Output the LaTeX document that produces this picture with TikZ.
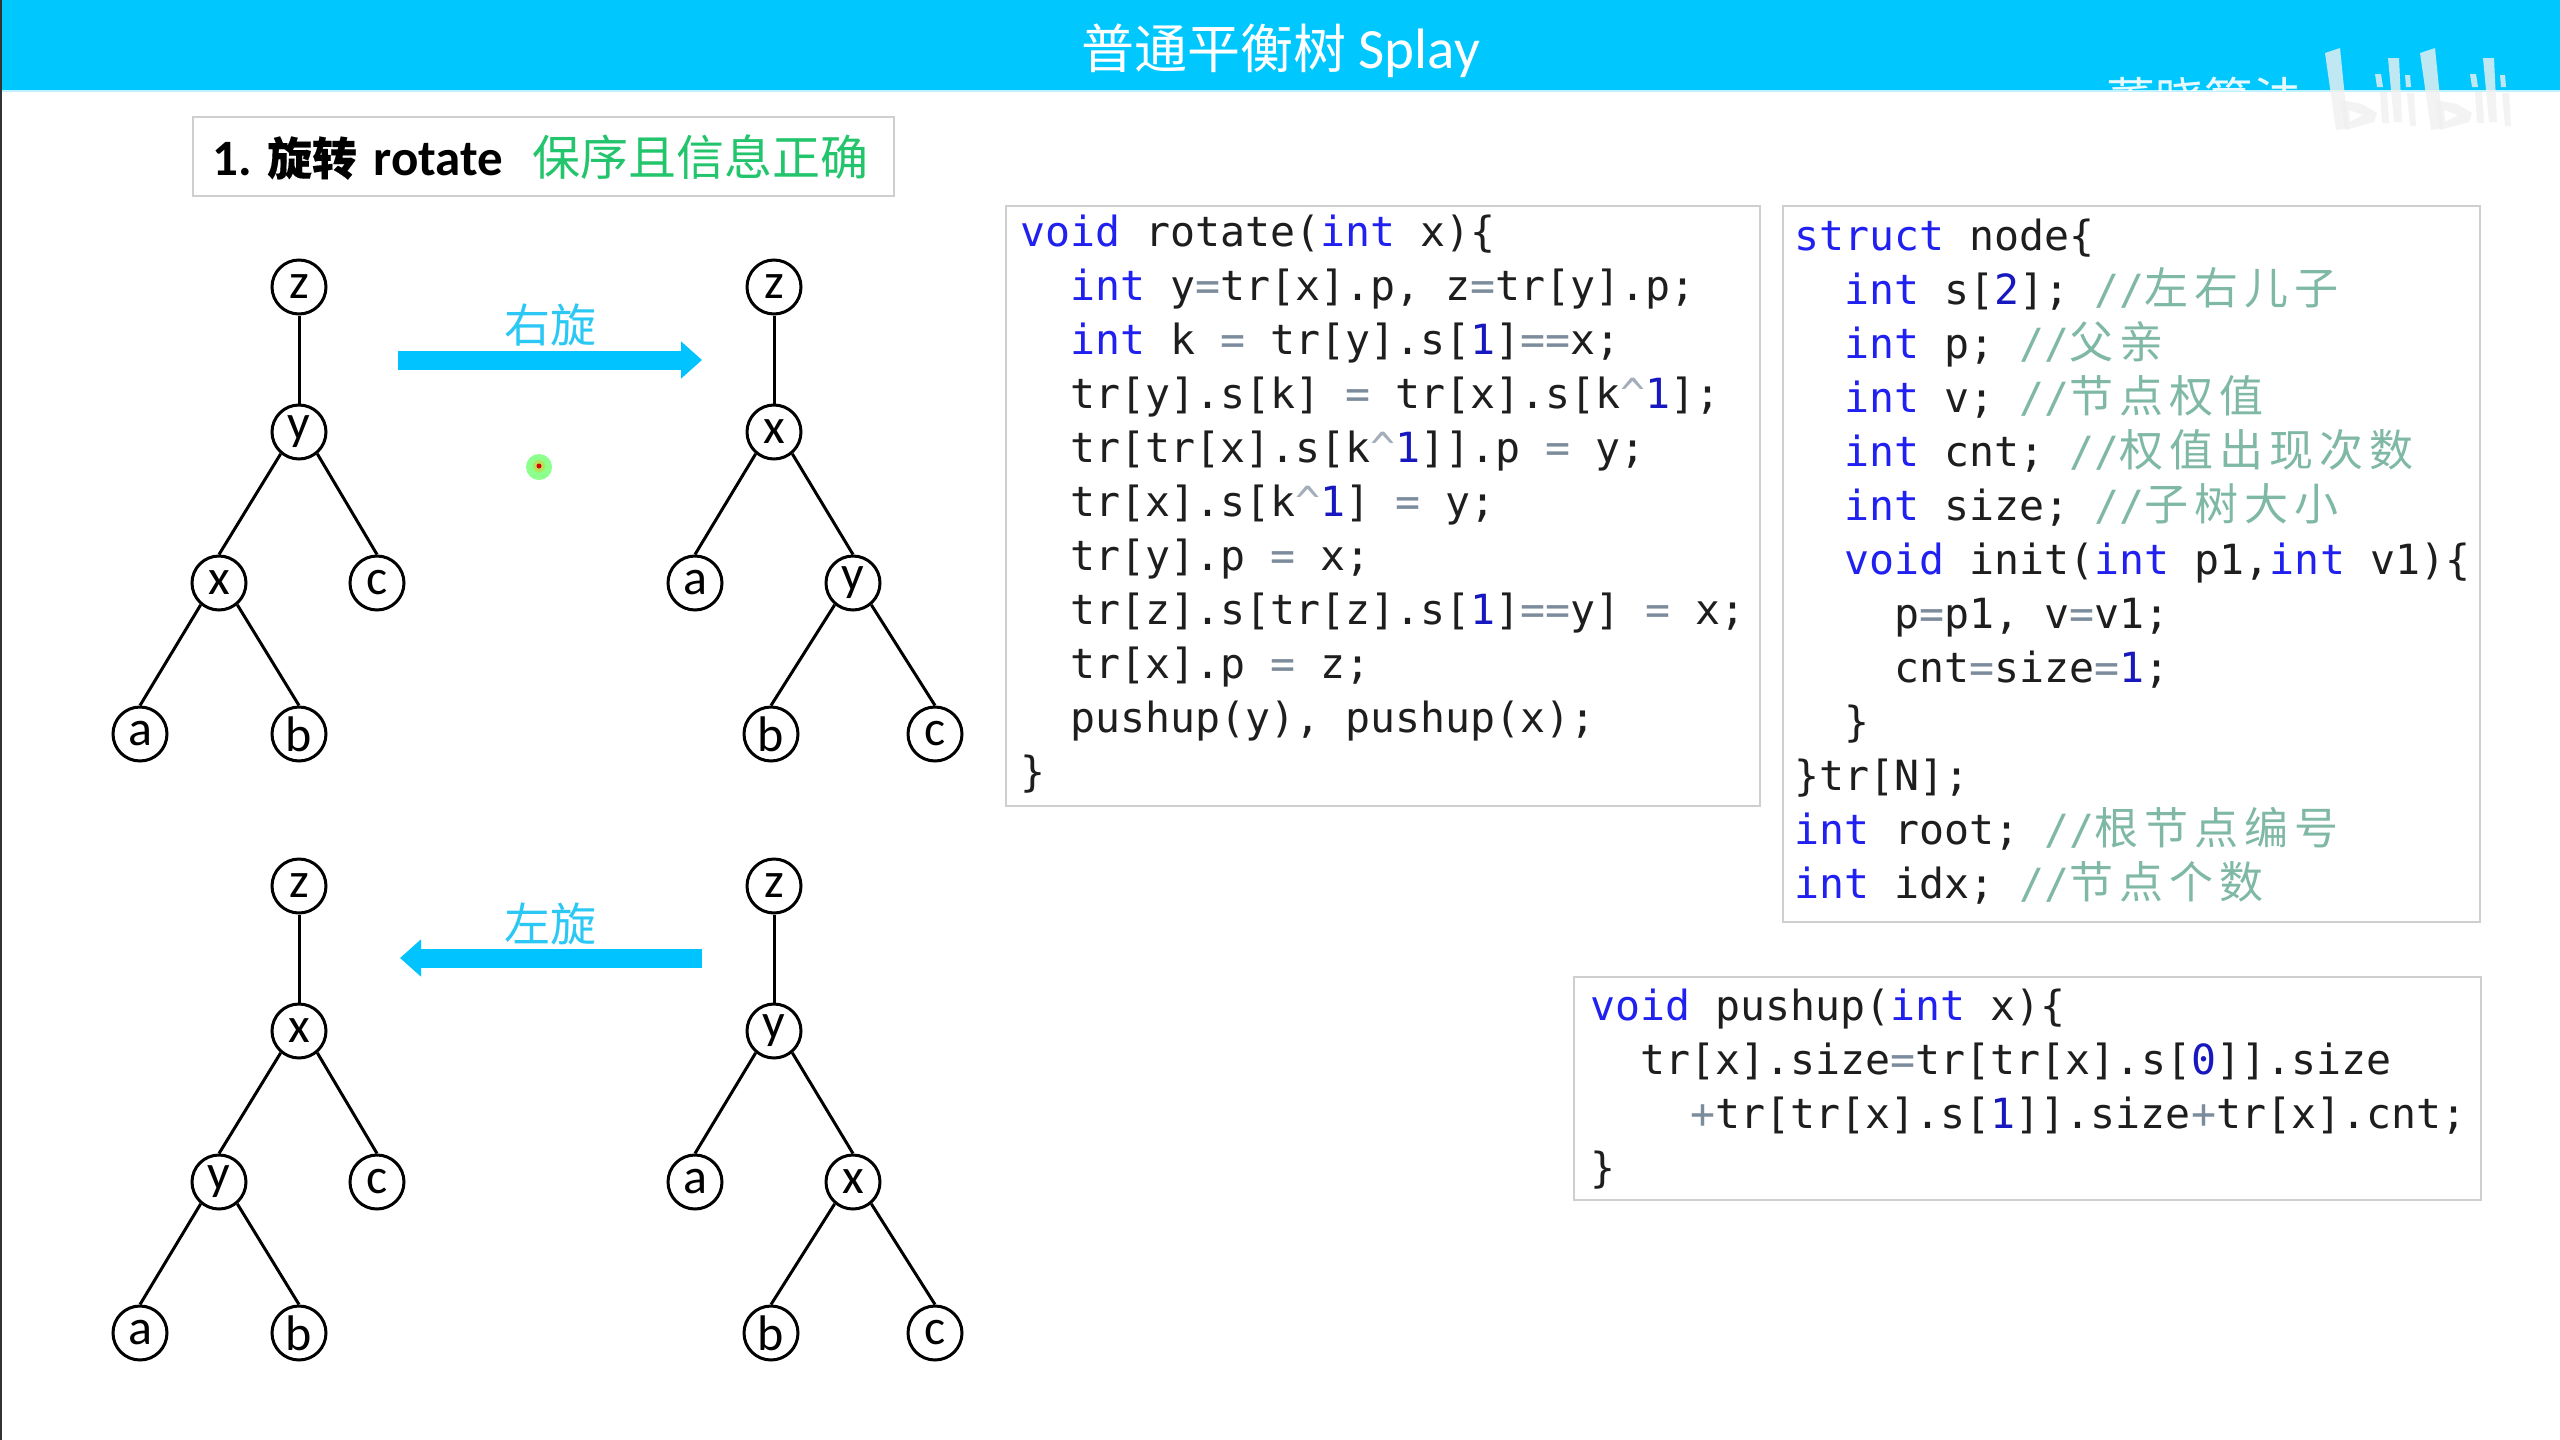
\documentclass[tikz,border=0pt]{standalone}
\usepackage{fontspec}
\usetikzlibrary{arrows.meta}
\setmainfont{Carlito}
\newfontfamily\cjk{Noto Sans CJK SC}
\newfontfamily\cjkb[FakeBold=0.25]{Noto Sans CJK SC}
\newfontfamily\cjkc[LetterSpace=13.6]{Noto Sans CJK SC}
\newfontfamily\codef[WordSpace={1,0,0}]{DejaVu Sans Mono}
\definecolor{headblue}{HTML}{00C8FF}
\definecolor{arrowblue}{HTML}{00C3FF}
\definecolor{labelblue}{HTML}{2CC8F5}
\definecolor{boxgray}{HTML}{CFCFCF}
\definecolor{keyw}{HTML}{2020F0}
\definecolor{numc}{HTML}{1818C0}
\definecolor{opc}{HTML}{7C8C9C}
\definecolor{cmtc}{HTML}{7FB8A4}
\definecolor{txt}{HTML}{1E1E1E}
\definecolor{okgreen}{HTML}{22C46C}
\definecolor{logoc}{HTML}{F0F0F0}
\newcommand{\kwd}[1]{\textcolor{keyw}{#1}}
\newcommand{\nmb}[1]{\textcolor{numc}{#1}}
\newcommand{\opr}[1]{\textcolor{opc}{#1}}
\newcommand{\cmnt}[1]{\textcolor{cmtc}{//\smash{\fontsize{44pt}{44pt}\cjkc #1}}}
\newcommand{\crt}{\textcolor{opc!70!white}{\textasciicircum}}
\newcommand{\cdl}[2]{\hbox{\hspace*{#1\dimexpr25pt\relax}\vrule height35pt depth19pt width0pt #2}}
\newcommand{\codeblock}[1]{\vbox{\offinterlineskip #1}}
\tikzset{
  tn/.style={circle,draw=black,fill=white,line width=3pt,minimum size=54pt,inner sep=0pt,font=\fontsize{50pt}{50pt}\selectfont,text=black},
  te/.style={line width=3pt,draw=black},
  codebox/.style={draw=boxgray,line width=2pt,fill=white,anchor=north west,inner sep=0pt},
  code/.style={anchor=north west,inner sep=0pt,text=txt,font=\fontsize{41.55pt}{54pt}\codef\frenchspacing},
  blockarrow/.style={line width=19pt,draw=arrowblue,-{Triangle[length=21pt,width=36pt]}},
  rotlabel/.style={text=labelblue,font=\fontsize{46pt}{46pt}\cjk,inner sep=0pt},
  logopart/.style={fill=logoc,opacity=0.8,draw=none},
}
\newcommand{\treeA}[6]{%
  \begin{scope}[shift={(#1,#2)}]
    \node[tn] (#6t) at (299,287) {#3};
    \node[tn] (#6m) at (299,432) {#4};
    \node[tn] (#6l) at (219,583) {#5};
    \node[tn] (#6r) at (377,583) {c};
    \node[tn] (#6a) at (140,734) {a};
    \node[tn] (#6b) at (299,734) {b};
    \draw[te] (#6t)--(#6m); \draw[te] (#6m.230)--(#6l.north); \draw[te] (#6m.310)--(#6r.north);
    \draw[te] (#6l.230)--(#6a.north); \draw[te] (#6l.310)--(#6b.north);
  \end{scope}}
\newcommand{\treeB}[6]{%
  \begin{scope}[shift={(#1,#2)}]
    \node[tn] (#6t) at (774,287) {#3};
    \node[tn] (#6m) at (774,432) {#4};
    \node[tn] (#6l) at (695,583) {a};
    \node[tn] (#6r) at (853,583) {#5};
    \node[tn] (#6a) at (771,734) {b};
    \node[tn] (#6b) at (935,734) {c};
    \draw[te] (#6t)--(#6m); \draw[te] (#6m.230)--(#6l.north); \draw[te] (#6m.310)--(#6r.north);
    \draw[te] (#6r.230)--(#6a.north); \draw[te] (#6r.310)--(#6b.north);
  \end{scope}}
\begin{document}
\begin{tikzpicture}[x=1pt,y=-1pt]
\useasboundingbox (0,0) rectangle (2560,1440);
\fill[white] (0,0) rectangle (2560,1440);
\fill[headblue] (0,0) rectangle (2560,90);
\draw[line width=2pt,color=headblue!25!white] (0,91) -- (2560,91);
\fill[black!80] (0,0) rectangle (2,1440);
% title
\node[anchor=base,text=white,inner sep=0pt] (title) at (1281,68) {\fontsize{53pt}{53pt}\cjk 普通平衡树 {\fontsize{57pt}{57pt}\rmfamily Splay}};
% watermark
\begin{scope}
  \clip (0,0) rectangle (2560,90);
  \node[anchor=base west,inner sep=0pt,text=white,opacity=.9] (wm) at (2106,118) {\fontsize{49pt}{49pt}\cjk 董晓算法};
\end{scope}
\foreach \dx in {0,95}{
  \begin{scope}[xshift=\dx pt]
    \fill[logopart] (2325,53)--(2340,48)--(2348,128)--(2336,130)--cycle;
    \fill[logopart,even odd rule] (2340,100)--(2362,104)--(2377,113)--(2374,122)--(2345,130)--cycle (2349,110)--(2363,115)--(2350,122)--cycle;
    \fill[logopart] (2375,74)--(2381,74)--(2383,87)--(2377,87)--cycle;
    \fill[logopart] (2380,92)--(2387,92)--(2389,123)--(2382,123)--cycle;
    \fill[logopart] (2388,58)--(2399,58)--(2402,122)--(2394,122)--cycle;
    \fill[logopart] (2405,75)--(2410,75)--(2411,87)--(2406,87)--cycle;
    \fill[logopart] (2407,93)--(2414,93)--(2416,126)--(2410,126)--cycle;
  \end{scope}
}
% heading box
\node[codebox,minimum width=701pt,minimum height=79pt] (headbox) at (192,116) {};
\node[anchor=base west,inner sep=0pt,text=black] (head1) at (212,175) {\fontsize{51pt}{51pt}\bfseries 1. {\fontsize{45pt}{45pt}\cjkb 旋转}\hspace{5pt} rotate};
\node[anchor=base west,inner sep=0pt,text=okgreen] (head2) at (532,175) {\fontsize{48pt}{48pt}\cjk 保序且信息正确};
% trees
\treeA{0}{0}{z}{y}{x}{p}
\treeB{0}{0}{z}{x}{y}{q}
\treeA{0}{599}{z}{x}{y}{s}
\treeB{0}{599}{z}{y}{x}{u}
% arrows
\coordinate (ra) at (398,360);
\coordinate (rb) at (702,360);
\draw[blockarrow] (ra) -- (rb);
\coordinate (la) at (702,958);
\coordinate (lb) at (400,958);
\draw[blockarrow] (la) -- (lb);
\node[rotlabel] (rl) at (550,325) {右旋};
\node[rotlabel] (ll) at (550,924) {左旋};
% pointer
\fill[green!45!white] (539,467) circle (13pt);
\fill[yellow!60!green!70!white] (539,466) circle (6pt);
\fill[red!85!black] (539,466) circle (2.5pt);
% rotate code
\node[codebox,minimum width=754pt,minimum height=600pt] (rotbox) at (1005,205) {};
\node[code] (rotcode) at (1020,211.5) {\codeblock{
\cdl{0}{\kwd{void} rotate(\kwd{int} x)\{}
\cdl{2}{\kwd{int} y\opr{=}tr[x].p, z\opr{=}tr[y].p;}
\cdl{2}{\kwd{int} k \opr{=} tr[y].s[\nmb{1}]\opr{==}x;}
\cdl{2}{tr[y].s[k] \opr{=} tr[x].s[k\crt\nmb{1}];}
\cdl{2}{tr[tr[x].s[k\crt\nmb{1}]].p \opr{=} y;}
\cdl{2}{tr[x].s[k\crt\nmb{1}] \opr{=} y;}
\cdl{2}{tr[y].p \opr{=} x;}
\cdl{2}{tr[z].s[tr[z].s[\nmb{1}]\opr{==}y] \opr{=} x;}
\cdl{2}{tr[x].p \opr{=} z;}
\cdl{2}{pushup(y), pushup(x);}
\cdl{0}{\}}
}};
% struct code
\node[codebox,minimum width=697pt,minimum height=716pt] (structbox) at (1781.5,205) {};
\node[code] (structcode) at (1794.5,215) {\codeblock{
\cdl{0}{\kwd{struct} node\{}
\cdl{2}{\kwd{int} s[\nmb{2}]; \cmnt{左右儿子}}
\cdl{2}{\kwd{int} p; \cmnt{父亲}}
\cdl{2}{\kwd{int} v; \cmnt{节点权值}}
\cdl{2}{\kwd{int} cnt; \cmnt{权值出现次数}}
\cdl{2}{\kwd{int} size; \cmnt{子树大小}}
\cdl{2}{\kwd{void} init(\kwd{int} p1,\kwd{int} v1)\{}
\cdl{4}{p\opr{=}p1, v\opr{=}v1;}
\cdl{4}{cnt\opr{=}size\opr{=}\nmb{1};}
\cdl{2}{\}}
\cdl{0}{\}tr[N];}
\cdl{0}{\kwd{int} root; \cmnt{根节点编号}}
\cdl{0}{\kwd{int} idx; \cmnt{节点个数}}
}};
% pushup code
\node[codebox,minimum width=907pt,minimum height=223pt] (pushbox) at (1572.5,976) {};
\node[code] (pushcode) at (1590.5,985.5) {\codeblock{
\cdl{0}{\kwd{void} pushup(\kwd{int} x)\{}
\cdl{2}{tr[x].size\opr{=}tr[tr[x].s[\nmb{0}]].size}
\cdl{4}{\opr{+}tr[tr[x].s[\nmb{1}]].size\opr{+}tr[x].cnt;}
\cdl{0}{\}}
}};
\end{tikzpicture}
\end{document}
